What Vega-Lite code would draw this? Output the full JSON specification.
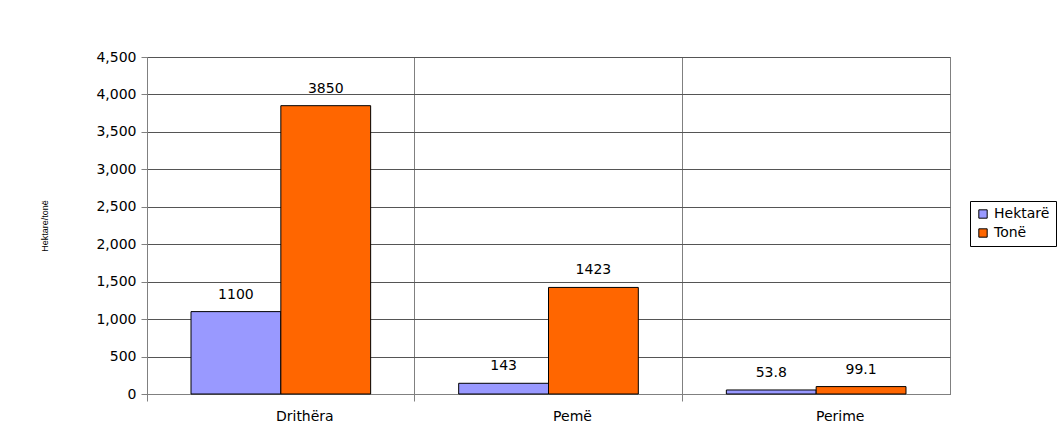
{
  "$schema": "https://vega.github.io/schema/vega-lite/v6.json",
  "width": 803,
  "height": 337,
  "autosize": {"type": "none"},
  "padding": {"left": 147, "top": 57, "right": 113, "bottom": 32},
  "background": "white",
  "data": {
    "values": [
      {"category": "Drithëra", "series": "Hektarë", "value": 1100, "label": "1100"},
      {"category": "Drithëra", "series": "Tonë", "value": 3850, "label": "3850"},
      {"category": "Pemë", "series": "Hektarë", "value": 143, "label": "143"},
      {"category": "Pemë", "series": "Tonë", "value": 1423, "label": "1423"},
      {"category": "Perime", "series": "Hektarë", "value": 53.8, "label": "53.8"},
      {"category": "Perime", "series": "Tonë", "value": 99.1, "label": "99.1"}
    ]
  },
  "config": {
    "font": "DejaVu Sans",
    "view": {"stroke": "#808080", "strokeWidth": 1},
    "axis": {"labelFont": "DejaVu Sans", "titleFont": "Liberation Sans"},
    "legend": {"labelFont": "DejaVu Sans"}
  },
  "encoding": {
    "x": {
      "field": "category",
      "type": "nominal",
      "sort": null,
      "scale": {"paddingInner": 0, "paddingOuter": 0},
      "axis": {
        "title": null,
        "labelAngle": 0,
        "bandPosition": 0,
        "labelOffset": 24,
        "labelAlign": "center",
        "labelFontSize": 14,
        "labelColor": "black",
        "labelPadding": 8,
        "grid": true,
        "gridColor": "#808080",
        "gridWidth": 1,
        "domainColor": "#808080",
        "tickColor": "#808080",
        "tickSize": 7
      }
    },
    "y": {
      "field": "value",
      "type": "quantitative",
      "scale": {"domain": [0, 4500], "nice": false},
      "axis": {
        "title": "Hektare/tonë",
        "titleFontSize": 9,
        "titleFontWeight": "normal",
        "titleColor": "black",
        "titlePadding": 46,
        "values": [0, 500, 1000, 1500, 2000, 2500, 3000, 3500, 4000, 4500],
        "format": ",d",
        "labelFontSize": 14,
        "labelColor": "black",
        "labelPadding": 5,
        "grid": true,
        "gridColor": "#555555",
        "gridWidth": 1,
        "domainColor": "#808080",
        "tickColor": "#808080",
        "tickSize": 6
      }
    },
    "xOffset": {
      "field": "series",
      "type": "nominal",
      "scale": {"paddingInner": 0, "paddingOuter": 0.49}
    }
  },
  "layer": [
    {
      "mark": {"type": "bar", "stroke": "black", "strokeWidth": 1},
      "encoding": {
        "color": {
          "field": "series",
          "type": "nominal",
          "scale": {"domain": ["Hektarë", "Tonë"], "range": ["#9999FF", "#FF6600"]},
          "legend": {
            "title": null,
            "orient": "none",
            "legendX": 823,
            "legendY": 144,
            "strokeColor": "black",
            "padding": 6,
            "symbolType": "square",
            "symbolSize": 70,
            "symbolStrokeColor": "black",
            "symbolStrokeWidth": 1,
            "labelFontSize": 14,
            "labelColor": "black",
            "rowPadding": 5
          }
        }
      }
    },
    {
      "mark": {"type": "text", "baseline": "bottom", "dy": -10, "fontSize": 14, "color": "black"},
      "encoding": {"text": {"field": "label"}}
    }
  ]
}
